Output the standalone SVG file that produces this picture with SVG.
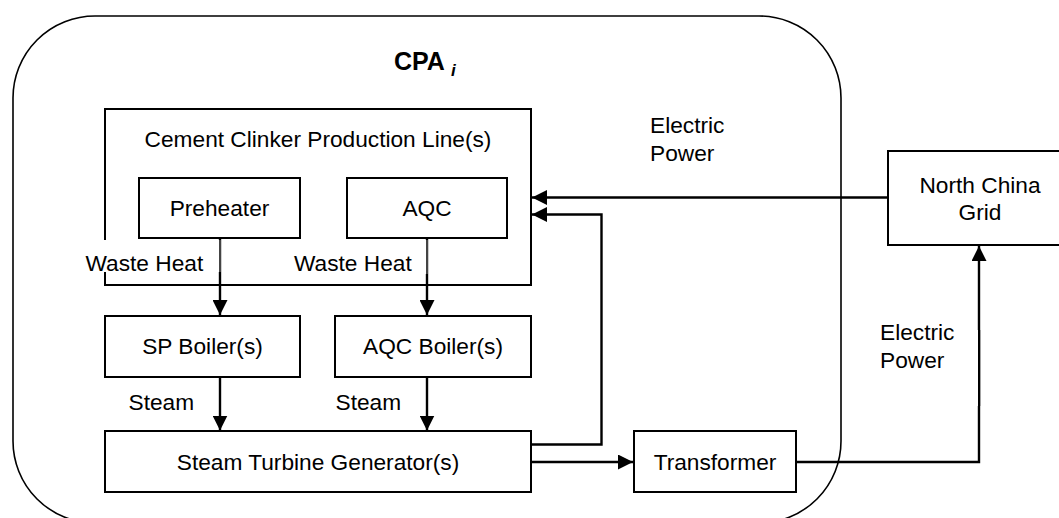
<svg xmlns="http://www.w3.org/2000/svg" width="1059" height="518" viewBox="0 0 1059 518">
<defs>
<marker id="ah" markerUnits="userSpaceOnUse" markerWidth="15" markerHeight="15" refX="15" refY="7.5" orient="auto">
<path d="M0,0 L15,7.5 L0,15 z" fill="#000"/>
</marker>
<style>
text{font-family:"Liberation Sans",Arial,sans-serif;font-size:22.7px;fill:#000}
.box{fill:#fff;stroke:#000;stroke-width:2}
.c{text-anchor:middle}
.arr{fill:none;stroke:#000;stroke-width:2.4;marker-end:url(#ah)}
.thin{stroke:#888;stroke-width:1}
.mask{fill:#fff;stroke:none}
</style>
</defs>
<rect width="1059" height="518" fill="#fff"/>
<g id="cpa">
<rect x="13" y="16" width="828" height="507" rx="82" ry="82" fill="none" stroke="#000" stroke-width="1.6"/>
<text x="394" y="70" style="font-weight:bold;font-size:25px">CPA <tspan dy="6" style="font-style:italic;font-size:17px">i</tspan></text>
</g>
<g id="clinker">
<rect class="box" x="105" y="109" width="426" height="176"/>
<text class="c" x="318" y="147">Cement Clinker Production Line(s)</text>
</g>
<g id="preheater">
<rect class="box" x="139" y="178" width="161" height="60"/>
<text class="c" x="219.5" y="216">Preheater</text>
</g>
<g id="aqc">
<rect class="box" x="347" y="178" width="160" height="60"/>
<text class="c" x="427" y="216">AQC</text>
</g>
<g id="sp-boiler">
<rect class="box" x="105" y="316" width="195" height="61"/>
<text class="c" x="202.5" y="354">SP Boiler(s)</text>
</g>
<g id="aqc-boiler">
<rect class="box" x="335" y="316" width="196" height="61"/>
<text class="c" x="433" y="354">AQC Boiler(s)</text>
</g>
<g id="turbine">
<rect class="box" x="105" y="431" width="426" height="61"/>
<text class="c" x="318" y="469.5">Steam Turbine Generator(s)</text>
</g>
<g id="transformer">
<rect class="box" x="634" y="431" width="162" height="61"/>
<text class="c" x="715" y="469.5">Transformer</text>
</g>
<g id="grid">
<rect class="box" x="888" y="151" width="184" height="94"/>
<text class="c" x="980" y="193">North China</text>
<text class="c" x="980" y="220">Grid</text>
</g>
<g id="connectors">
<line class="arr" x1="220" y1="239" x2="220" y2="315"/>
<line class="arr" x1="427" y1="239" x2="427" y2="315"/>
<line class="arr" x1="220" y1="377" x2="220" y2="430.5"/>
<line class="arr" x1="427" y1="377" x2="427" y2="430.5"/>
<line class="arr" x1="887" y1="197.5" x2="532" y2="197.5"/>
<polyline class="arr" points="532,444.5 601.5,444.5 601.5,214.5 532,214.5"/>
<line class="arr" x1="532" y1="462" x2="633" y2="462"/>
<polyline class="arr" points="797,462 979,462 979,246"/>
<rect class="mask" x="84" y="240" width="135" height="32"/>
<line class="thin" x1="220" y1="240" x2="220" y2="272"/>
<rect class="mask" x="292" y="240" width="134" height="34"/>
<line class="thin" x1="427" y1="240" x2="427" y2="274"/>
<rect class="mask" x="874" y="330" width="104" height="76"/>
<line x1="979.6" y1="330" x2="979.6" y2="406" stroke="#000" stroke-width="1.2"/>
</g>
<g id="labels">
<text x="85.5" y="270.5">Waste Heat</text>
<text x="294" y="270.5">Waste Heat</text>
<text x="128.5" y="410">Steam</text>
<text x="335.5" y="410">Steam</text>
<text x="650" y="133">Electric</text>
<text x="650" y="161">Power</text>
<text x="880" y="340">Electric</text>
<text x="880" y="368">Power</text>
</g>
</svg>
